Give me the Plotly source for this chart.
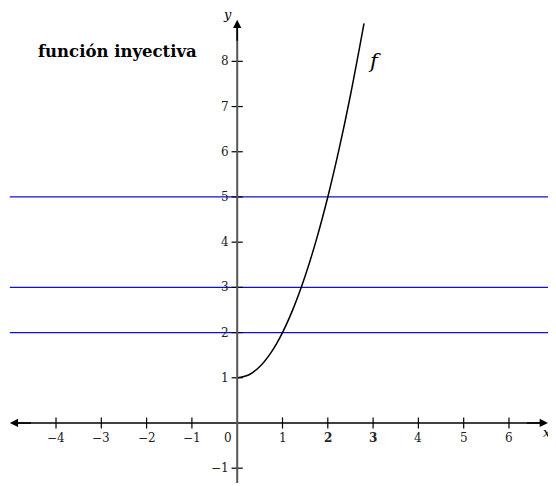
import plotly.graph_objects as go

# curve points
curve_x = [0, 0.25, 0.5, 0.75, 1.0, 1.25, 1.5, 1.75, 2.0, 2.25, 2.5, 2.8]
curve_y = [1, 1.0625, 1.25, 1.5625, 2.0, 2.5625, 3.25, 4.0625, 5.0, 6.0625, 7.25, 8.84]

h_lines = [2, 3, 5]
x_ticks = [-4, -3, -2, -1, 1, 2, 3, 4, 5, 6]
x_tick_labels = ["−4", "−3", "−2", "−1", "1", "<b>2</b>", "<b>3</b>", "4", "5", "6"]
y_ticks = [-1, 1, 2, 3, 4, 5, 6, 7, 8]
y_tick_labels = ["−1", "1", "2", "3", "4", "5", "6", "7", "8"]

X_MIN, X_MAX = -5.06, 7.038
Y_MIN, Y_MAX = -1.394, 9.18
AX_LEFT, AX_RIGHT = -5.02, 6.86
AY_BOTTOM, AY_TOP = -1.33, 8.92

FONT = "DejaVu Serif"
TICK_COLOR = "#222222"

fig = go.Figure()

for yv in h_lines:
    fig.add_trace(go.Scatter(x=[AX_LEFT, X_MAX], y=[yv, yv], mode="lines",
                             line=dict(color="#1010d0", width=1.2), hoverinfo="skip"))

fig.add_trace(go.Scatter(x=curve_x, y=curve_y, mode="lines", line_shape="spline",
                         line=dict(color="black", width=1.5), hoverinfo="skip"))

# axes lines
fig.add_shape(type="line", x0=AX_LEFT + 0.1, x1=AX_RIGHT - 0.1, y0=0, y1=0,
              line=dict(color="black", width=1.5))
fig.add_shape(type="line", x0=0, x1=0, y0=AY_BOTTOM, y1=AY_TOP - 0.1,
              line=dict(color="#555555", width=2))

# arrowheads
for (tx, ty, sx, sy) in [(AX_RIGHT, 0, AX_RIGHT - 0.5, 0),
                         (AX_LEFT, 0, AX_LEFT + 0.5, 0),
                         (0, AY_TOP, 0, AY_TOP - 0.5)]:
    fig.add_annotation(x=tx, y=ty, ax=sx, ay=sy, xref="x", yref="y", axref="x", ayref="y",
                       showarrow=True, arrowhead=2, arrowsize=1.1, arrowwidth=1.5,
                       arrowcolor="black", text="")

# tick marks
fig.add_trace(go.Scatter(x=x_ticks, y=[0] * len(x_ticks), mode="markers",
                         marker=dict(symbol="line-ns", size=8,
                                     line=dict(color="black", width=1.2)),
                         hoverinfo="skip"))
fig.add_trace(go.Scatter(x=[0] * len(y_ticks), y=y_ticks, mode="markers",
                         marker=dict(symbol="line-ew", size=8,
                                     line=dict(color="black", width=1.2)),
                         hoverinfo="skip"))

# tick labels
for xv, lab in zip(x_ticks, x_tick_labels):
    fig.add_annotation(x=xv, y=-0.33, text=lab, showarrow=False, xref="x", yref="y",
                       font=dict(family=FONT, size=12, color=TICK_COLOR))
fig.add_annotation(x=-0.2, y=-0.33, text="0", showarrow=False,
                   font=dict(family=FONT, size=12, color=TICK_COLOR))
for yv, lab in zip(y_ticks, y_tick_labels):
    fig.add_annotation(x=-0.14, y=yv, text=lab, showarrow=False, xanchor="right",
                       font=dict(family=FONT, size=12, color=TICK_COLOR))

# axis labels
fig.add_annotation(x=6.83, y=-0.22, text="<i>x</i>", showarrow=False,
                   font=dict(family=FONT, size=13, color="black"))
fig.add_annotation(x=-0.22, y=9.03, text="<i>y</i>", showarrow=False,
                   font=dict(family=FONT, size=13, color="black"))

# labels
fig.add_annotation(x=3.04, y=8.0, text="<i>f</i>", showarrow=False,
                   font=dict(family=FONT, size=21, color="black"))
fig.add_annotation(x=-4.45, y=8.22, text="<b>función inyectiva</b>", showarrow=False,
                   xanchor="left",
                   font=dict(family=FONT, size=16.5, color="black"))

fig.update_layout(
    width=548, height=478,
    margin=dict(l=0, r=0, t=0, b=0),
    plot_bgcolor="white", paper_bgcolor="white",
    showlegend=False,
    xaxis=dict(range=[X_MIN, X_MAX], visible=False, fixedrange=True),
    yaxis=dict(range=[Y_MIN, Y_MAX], visible=False, fixedrange=True),
)

fig.write_html("out.html")
